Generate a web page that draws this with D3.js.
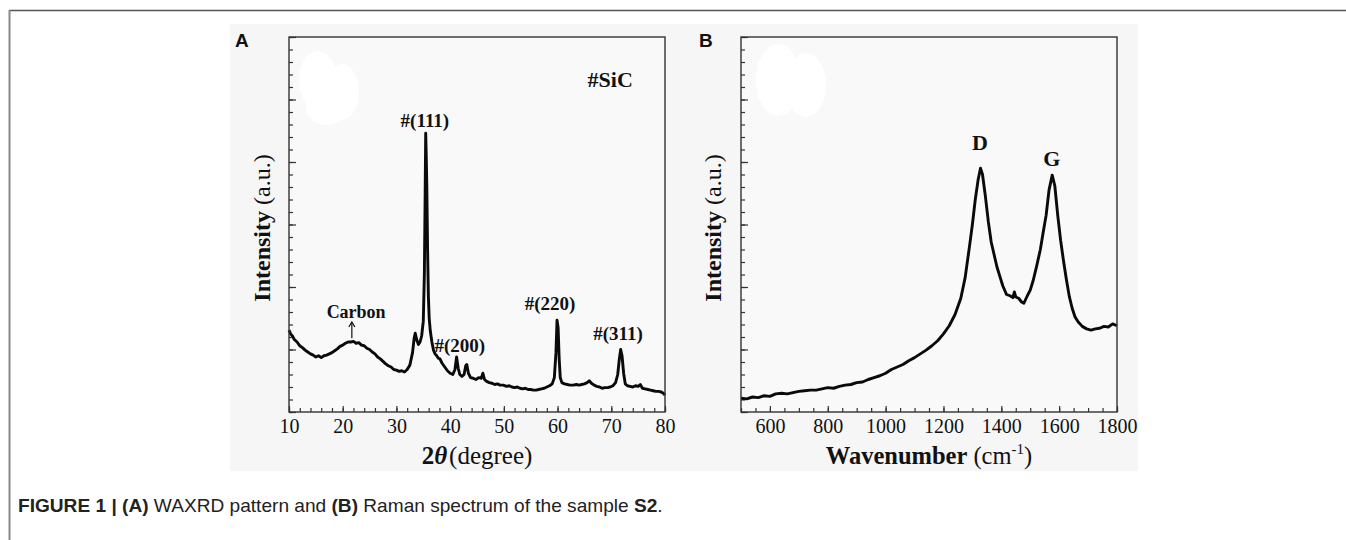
<!DOCTYPE html>
<html><head><meta charset="utf-8">
<script src="https://cdn.jsdelivr.net/npm/d3@7"></script>
<style>body{margin:0;background:#fff;} svg{display:block}</style>
</head><body>
<svg id="c" width="1346" height="540"></svg>
<script>
// ---------- DATA ----------
const xrdAngle = [10.0,10.3,10.6,11.0,11.5,12.0,12.5,13.0,13.5,14.0,14.5,15.0,15.5,16.0,16.5,17.0,17.5,18.0,18.5,19.0,19.5,20.0,20.5,21.0,21.5,22.0,22.5,23.0,23.5,24.0,24.5,25.0,25.5,26.0,26.5,27.0,27.5,28.0,28.5,29.0,29.5,30.0,30.5,31.0,31.5,32.0,32.5,33.0,33.3,33.5,33.8,34.1,34.4,34.7,35.0,35.2,35.35,35.45,35.55,35.65,35.8,35.95,36.1,36.3,36.6,36.9,37.2,37.5,37.8,38.1,38.5,39.0,39.5,40.0,40.5,40.9,41.2,41.5,41.8,42.2,42.6,42.9,43.1,43.4,43.8,44.3,44.8,45.3,45.8,46.1,46.4,46.8,47.3,47.8,48.3,48.8,49.3,49.9,50.5,51.0,51.5,52.0,52.5,53.0,53.5,54.0,54.5,55.0,55.5,56.0,56.5,57.0,57.5,58.0,58.5,59.0,59.4,59.7,59.9,60.1,60.3,60.5,60.8,61.3,61.8,62.3,62.9,63.5,64.0,64.5,65.0,65.5,65.9,66.3,66.8,67.3,67.8,68.3,68.8,69.3,69.8,70.3,70.8,71.2,71.5,71.75,72.0,72.3,72.6,73.0,73.5,74.0,74.5,75.0,75.4,75.8,76.3,76.8,77.3,77.8,78.3,78.8,79.3,79.7,80.0];
const xrdIntensity = [1.31,1.25,1.22,1.16,1.12,1.06,1.03,0.99,0.96,0.93,0.91,0.88,0.90,0.87,0.90,0.91,0.93,0.95,0.98,1.01,1.05,1.07,1.10,1.12,1.12,1.13,1.10,1.11,1.07,1.06,1.02,1.00,0.96,0.93,0.88,0.85,0.81,0.77,0.74,0.72,0.68,0.67,0.65,0.66,0.64,0.68,0.75,0.95,1.18,1.26,1.15,1.08,1.12,1.22,1.45,2.2,3.5,4.46,4.1,3.65,2.6,1.85,1.5,1.3,1.12,0.99,0.93,0.90,0.86,0.85,0.78,0.72,0.66,0.62,0.60,0.68,0.88,0.70,0.60,0.57,0.60,0.74,0.76,0.62,0.55,0.54,0.52,0.55,0.54,0.62,0.52,0.49,0.47,0.46,0.44,0.45,0.43,0.43,0.41,0.42,0.40,0.39,0.40,0.38,0.37,0.38,0.36,0.36,0.35,0.35,0.36,0.37,0.38,0.40,0.42,0.45,0.55,0.95,1.47,1.35,0.85,0.55,0.47,0.45,0.44,0.43,0.43,0.44,0.43,0.44,0.45,0.47,0.50,0.46,0.43,0.41,0.40,0.38,0.39,0.39,0.40,0.42,0.47,0.60,0.85,1.00,0.90,0.62,0.45,0.42,0.41,0.40,0.42,0.41,0.44,0.38,0.37,0.36,0.35,0.34,0.33,0.33,0.32,0.30,0.27];

const ramanShift = [500,520,540,560,580,600,620,640,660,680,700,720,740,760,780,800,820,840,860,880,900,920,940,960,980,1000,1020,1040,1060,1080,1100,1120,1140,1160,1180,1200,1220,1240,1260,1275,1290,1300,1310,1320,1328,1335,1345,1355,1365,1375,1385,1395,1405,1418,1430,1440,1445,1450,1460,1470,1478,1490,1500,1510,1522,1535,1545,1555,1565,1576,1585,1595,1605,1615,1625,1635,1645,1655,1666,1680,1695,1710,1725,1740,1755,1770,1785,1800];
const ramanIntensity = [0.22,0.21,0.24,0.23,0.26,0.25,0.29,0.30,0.29,0.31,0.33,0.34,0.35,0.35,0.37,0.39,0.38,0.41,0.43,0.44,0.47,0.48,0.52,0.55,0.58,0.62,0.68,0.72,0.76,0.82,0.87,0.93,0.99,1.06,1.14,1.25,1.38,1.56,1.82,2.15,2.65,3.0,3.4,3.72,3.90,3.80,3.45,3.05,2.72,2.52,2.32,2.17,2.02,1.88,1.86,1.83,1.92,1.84,1.82,1.76,1.74,1.86,1.95,2.10,2.33,2.60,2.88,3.15,3.55,3.79,3.62,3.15,2.75,2.42,2.12,1.85,1.66,1.52,1.44,1.37,1.33,1.31,1.33,1.34,1.37,1.36,1.41,1.38];

const xrdTicks = [10,20,30,40,50,60,70,80];
const xrdMinorTicks = d3.range(10, 80.01, 2);
const ramanTicks = [600,800,1000,1200,1400,1600,1800];
const ramanMinorTicks = d3.range(500, 1800.01, 50);
const yTicks = [0,1,2,3,4,5,6];
const yMinorTicks = d3.range(0, 6.01, 0.2);

const xrdLabels = ["#SiC","#(111)","Carbon","#(200)","#(220)","#(311)"];
const xrdLabelX = [69.8, 35.3, 22.5, 41.8, 58.6, 71.25];
const xrdLabelY = [5.2, 4.56, 1.50, 0.96, 1.63, 1.15];
const xrdLabelSize = [22, 19, 18, 19, 19, 19];
const ramanLabels = ["D","G"];
const ramanLabelX = [1326, 1575];
const ramanLabelY = [4.19, 3.94];

// ---------- DRAW ----------
const svg = d3.select("#c");
const serif = "'Liberation Serif','Times New Roman',serif";

svg.append("line").attr("x1",9).attr("x2",1346).attr("y1",10.5).attr("y2",10.5).attr("stroke","#555").attr("stroke-width",1.4);
svg.append("line").attr("x1",9.5).attr("x2",9.5).attr("y1",10).attr("y2",540).attr("stroke","#888").attr("stroke-width",2);

svg.append("rect").attr("x",230).attr("y",24).attr("width",908).attr("height",447).attr("fill","#f6f6f6");

function panel(opt){
  const g = svg.append("g");
  const x = d3.scaleLinear().domain(opt.xDomain).range([opt.left, opt.right]);
  const y = d3.scaleLinear().domain([0,6]).range([412, 37]);
  g.append("rect").attr("x",opt.left).attr("y",37).attr("width",opt.right-opt.left).attr("height",375).attr("fill","#f9f9f9");
  opt.blobs.forEach(b=>g.append("ellipse").attr("cx",b[0]).attr("cy",b[1]).attr("rx",b[2]).attr("ry",b[3]).attr("fill","#fff"));
  const style = s=>{s.select(".domain").remove(); s.selectAll("line").attr("stroke","#333").attr("stroke-width",1.2);};
  g.append("g").attr("transform","translate(0,412)")
    .call(d3.axisBottom(x).tickValues(opt.minor).tickSize(-4).tickFormat("")).call(style);
  g.append("g").attr("transform",`translate(${opt.left},0)`)
    .call(d3.axisLeft(y).tickValues(yMinorTicks).tickSize(-4).tickFormat("")).call(style);
  g.append("g").attr("transform","translate(0,412)")
    .call(d3.axisBottom(x).tickValues(opt.major).tickSize(-6).tickPadding(7).tickFormat(d3.format("d")))
    .call(style)
    .call(s=>s.selectAll("text").attr("font-family",serif).attr("font-size",20).attr("fill","#111"));
  g.append("g").attr("transform",`translate(${opt.left},0)`)
    .call(d3.axisLeft(y).tickValues(yTicks).tickSize(-7).tickFormat("")).call(style);
  const line = d3.line().x((d,i)=>x(opt.xs[i])).y((d,i)=>y(opt.ys[i]));
  g.append("path").datum(opt.xs).attr("d",line).attr("fill","none").attr("stroke","#0a0a0a")
    .attr("stroke-width",2.9).attr("stroke-linejoin","round");
  g.append("rect").attr("x",opt.left).attr("y",37).attr("width",opt.right-opt.left).attr("height",375)
    .attr("fill","none").attr("stroke","#333").attr("stroke-width",1.4);
  const yl = g.append("text").attr("transform",`translate(${opt.ylabX},228) rotate(-90)`).attr("text-anchor","middle")
    .attr("font-family",serif).attr("font-size",24).attr("fill","#111");
  yl.append("tspan").attr("font-weight","bold").text("Intensity");
  yl.append("tspan").text(" (a.u.)");
  g.append("text").attr("x",opt.letterX).attr("y",47).attr("font-family","'Liberation Sans',Arial,sans-serif")
    .attr("font-weight","bold").attr("font-size",19).attr("fill","#111").text(opt.letter);
  return {g,x,y};
}

const A = panel({xDomain:[10,80], left:289, right:665, major:xrdTicks, minor:xrdMinorTicks,
  xs:xrdAngle, ys:xrdIntensity, ylabX:270, letter:"A", letterX:235,
  blobs:[[318,80,19,29],[342,92,17,28],[326,108,20,17]]});
const B = panel({xDomain:[500,1800], left:741, right:1117, major:ramanTicks, minor:ramanMinorTicks,
  xs:ramanShift, ys:ramanIntensity, ylabX:721, letter:"B", letterX:699,
  blobs:[[778,80,22,36],[806,85,20,32]]});

const xa = A.g.append("text").attr("x",477).attr("y",464).attr("text-anchor","middle").attr("font-family",serif).attr("font-size",25).attr("fill","#111");
xa.append("tspan").attr("font-weight","bold").text("2");
xa.append("tspan").attr("font-weight","bold").attr("font-style","italic").text("θ");
xa.append("tspan").attr("dx",2).text("(degree)");
const xb = B.g.append("text").attr("x",929).attr("y",464).attr("text-anchor","middle").attr("font-family",serif).attr("font-size",24.5).attr("fill","#111");
xb.append("tspan").attr("font-weight","bold").text("Wavenumber");
xb.append("tspan").text(" (cm");
xb.append("tspan").attr("font-size",15).attr("dy",-10).text("-1");
xb.append("tspan").attr("dy",10).text(")");

xrdLabels.forEach((t,i)=>{
  A.g.append("text").attr("x",A.x(xrdLabelX[i])).attr("y",A.y(xrdLabelY[i])).attr("text-anchor","middle")
    .attr("font-family",serif).attr("font-weight","bold").attr("font-size",xrdLabelSize[i]).attr("fill","#111").text(t);
});
const ax = A.x(21.7), ay1 = A.y(1.18), ay2 = A.y(1.44);
A.g.append("line").attr("x1",ax).attr("x2",ax).attr("y1",ay1).attr("y2",ay2+1).attr("stroke","#111").attr("stroke-width",1.2);
A.g.append("path").attr("d",`M${ax-3},${ay2+5}L${ax},${ay2}L${ax+3},${ay2+5}`).attr("fill","none").attr("stroke","#111").attr("stroke-width",1.2);
ramanLabels.forEach((t,i)=>{
  B.g.append("text").attr("x",B.x(ramanLabelX[i])).attr("y",B.y(ramanLabelY[i])).attr("text-anchor","middle")
    .attr("font-family",serif).attr("font-weight","bold").attr("font-size",22).attr("fill","#111").text(t);
});

const cap = svg.append("text").attr("x",18).attr("y",512).attr("font-family","'Liberation Sans Narrow','Liberation Sans',Arial,sans-serif")
  .attr("font-size",17.5).attr("fill","#222");
[["FIGURE 1 | ",true],["(A)",true],[" WAXRD pattern and ",false],["(B)",true],[" Raman spectrum of the sample ",false],["S2",true],[".",false]]
  .forEach(([t,b])=>cap.append("tspan").attr("font-weight",b?"bold":"normal").text(t));
const w = cap.node().getComputedTextLength();
const target = 645;
cap.attr("transform",`translate(18,0) scale(${target/w},1) translate(-18,0)`);
</script>
</body></html>
